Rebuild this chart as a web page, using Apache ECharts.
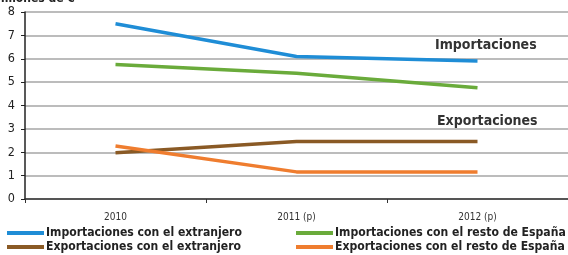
<!DOCTYPE html>
<html><head><meta charset="utf-8">
<script src="https://cdn.jsdelivr.net/npm/echarts@6/dist/echarts.min.js"></script>
<style>html,body{margin:0;padding:0;background:#fff}#c{width:568px;height:255px}</style>
</head><body><div id="c"></div>
<script>
const categories = ['2010', '2011 (p)', '2012 (p)'];
const impExtranjero = [7.5, 6.1, 5.9];
const impResto = [5.75, 5.38, 4.76];
const expExtranjero = [1.98, 2.46, 2.46];
const expResto = [2.27, 1.16, 1.16];
const yTicks = [0, 1, 2, 3, 4, 5, 6, 7, 8];
const names = ['Importaciones con el extranjero', 'Importaciones con el resto de España',
  'Exportaciones con el extranjero', 'Exportaciones con el resto de España'];
const colors = ['#1f8dd6', '#6aab3b', '#8a5a25', '#ef7d2f'];
const FONT = '"DejaVu Sans Condensed", "DejaVu Sans", sans-serif';

const chart = echarts.init(document.getElementById('c'));
const mk = (i, d) => ({
  name: names[i], type: 'line', data: d, symbol: 'none', smooth: false,
  lineStyle: { color: colors[i], width: 3.5 }, itemStyle: { color: colors[i] }
});
const legendBase = {
  orient: 'vertical', icon: 'rect', itemWidth: 37, itemHeight: 4, itemGap: 2,
  textStyle: { fontFamily: FONT, fontWeight: 'bold', fontSize: 12.1, color: '#222', padding: [0,0,0,-3] },
  padding: 0
};
chart.setOption({
  animation: false,
  title: { text: 'Millones de €', left: -11, top: -12, textStyle: { fontFamily: FONT, fontWeight: 'bold', fontSize: 12, color: '#222' } },
  grid: { left: 25, right: 0, top: 12, bottom: 56 },
  legend: [
    Object.assign({}, legendBase, { left: 7, top: 227, data: [names[0], names[2]] }),
    Object.assign({}, legendBase, { left: 296, top: 227, data: [names[1], names[3]] })
  ],
  xAxis: {
    type: 'category', data: categories, boundaryGap: true,
    axisLine: { lineStyle: { color: '#333', width: 1.5 } },
    axisTick: { show: true, length: 4, lineStyle: { color: '#333' } },
    axisLabel: { fontFamily: FONT, fontSize: 10, color: '#333', margin: 13 }
  },
  yAxis: {
    type: 'value', min: yTicks[0], max: yTicks[yTicks.length - 1], interval: 1,
    axisLine: { show: true, lineStyle: { color: '#222', width: 1.5 } },
    axisTick: { show: true, length: 4, lineStyle: { color: '#222' } },
    axisLabel: { fontFamily: FONT, fontSize: 12.5, color: '#222', margin: 10 },
    splitLine: { lineStyle: { color: '#a6a6a6', width: 1.5 } }
  },
  graphic: [
    { type: 'text', left: 435, top: 38, style: { text: 'Importaciones', font: 'bold 14px ' + FONT, fill: '#333' } },
    { type: 'text', left: 437, top: 114, style: { text: 'Exportaciones', font: 'bold 14px ' + FONT, fill: '#333' } }
  ],
  series: [mk(0, impExtranjero), mk(1, impResto), mk(2, expExtranjero), mk(3, expResto)]
});
</script></body></html>
